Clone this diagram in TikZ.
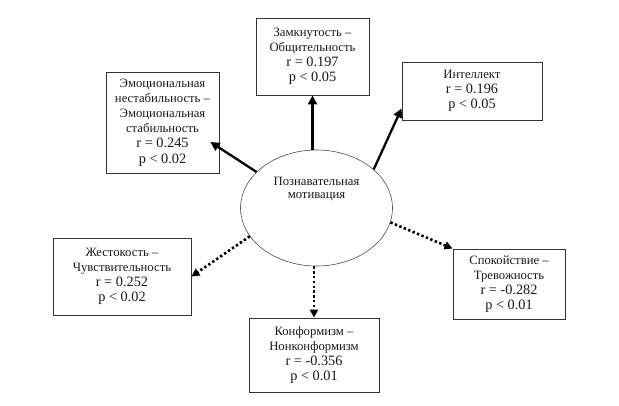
\documentclass[tikz,border=0pt]{standalone}
\usepackage{fontspec}
\setmainfont{Liberation Serif}
\usetikzlibrary{arrows.meta,calc,shapes.geometric}
\newcommand\numline[1]{{\fontsize{14.3}{15.2}\selectfont #1}}
\begin{document}
\begin{tikzpicture}[x=1pt,y=-1pt,
  box/.style={draw=black!80,line width=0.9pt,rectangle,inner sep=0pt,align=center,
    font=\fontsize{12.7}{15.2}\selectfont,text=black!90},
  solidarrow/.style={line width=2.3pt,-{Triangle[length=9pt,width=9pt]}},
  dotarrow/.style={line width=2.6pt,dash pattern=on 2.4pt off 2.4pt,-{Triangle[length=8pt,width=8pt]}},
  elltext/.style={align=center,font=\fontsize{12.7}{12.5}\selectfont,text=black!90,inner sep=0pt}]
\useasboundingbox (0,0) rectangle (619,405);
\node[draw=black!70,line width=0.6pt,ellipse,minimum width=152pt,minimum height=116pt,inner sep=0pt] (ell) at (316.5,208) {};
\node[elltext] (elltxt) at (316.5,189) {Познавательная\\мотивация};
\node[box,minimum width=113pt,minimum height=77pt] (zam) at (312.5,56.5) {Замкнутость –\\Общительность\\\numline{r = 0.197}\\\numline{p < 0.05}};
\node[box,minimum width=113pt,minimum height=101pt] (emo) at (162.5,122.5) {Эмоциональная\\нестабильность –\\Эмоциональная\\стабильность\\\numline{r = 0.245}\\\numline{p < 0.02}};
\node[box,minimum width=140pt,minimum height=58pt] (int) at (472,91) {Интеллект\\\numline{r = 0.196}\\\numline{p < 0.05}};
\node[box,minimum width=138pt,minimum height=77pt] (zhe) at (122,276.5) {Жестокость –\\Чувствительность\\\numline{r = 0.252}\\\numline{p < 0.02}};
\node[box,minimum width=130pt,minimum height=74pt] (kon) at (314,355) {Конформизм –\\Нонконформизм\\\numline{r = -0.356}\\\numline{p < 0.01}};
\node[box,minimum width=112pt,minimum height=70pt] (spo) at (509,284) {Спокойствие –\\Тревожность\\\numline{r = -0.282}\\\numline{p < 0.01}};
\draw[solidarrow] (zam.south |- ell.north) -- (zam.south);
\draw[solidarrow] (ell.149) -- ($(emo.east)+(-9,19.5)$);
\draw[solidarrow] (ell.34) -- ($(int.south west)+(0,-12)$);
\draw[dotarrow] (ell.203) -- (zhe.east);
\draw[dotarrow] (kon.north |- ell.south) -- (kon.north);
\draw[dotarrow] (ell.349) -- (spo.north west);
\end{tikzpicture}
\end{document}
